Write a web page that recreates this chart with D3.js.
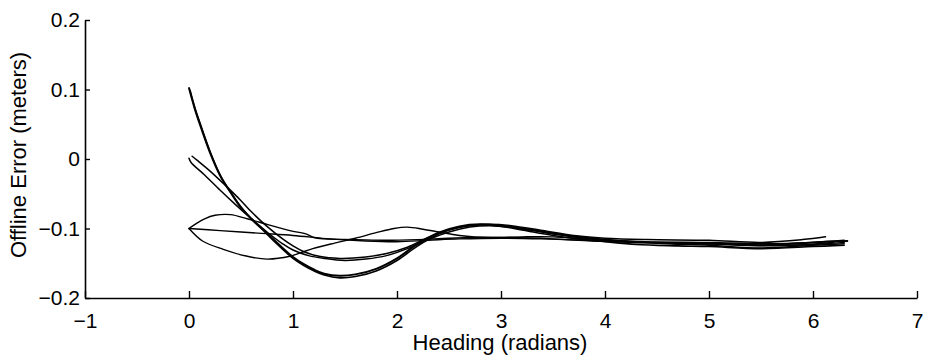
<!DOCTYPE html>
<html>
<head>
<meta charset="utf-8">
<script src="https://cdn.jsdelivr.net/npm/d3@7"></script>
<style>
  html, body { margin: 0; padding: 0; background: #fff; }
  svg { display: block; }
  text { font-family: "Liberation Sans", Arial, Helvetica, sans-serif; fill: #000; }
</style>
</head>
<body>
<svg id="chart" width="930" height="360"></svg>
<script>
// ---- data (heading in radians, offline error in meters) ----
const xTicks = [-1, 0, 1, 2, 3, 4, 5, 6, 7];
const yTicks = [-0.2, -0.1, 0, 0.1, 0.2];
const xLabel = "Heading (radians)";
const yLabel = "Offline Error (meters)";

const run1 = [[0,0.102],[0.05,0.075],[0.1,0.052],[0.2,0.01],[0.3,-0.024],[0.4,-0.048],[0.5,-0.07],[0.6,-0.086],[0.7,-0.1],[0.8,-0.114],[0.9,-0.128],[1.0,-0.141],[1.1,-0.151],[1.2,-0.159],[1.3,-0.165],[1.45,-0.168],[1.6,-0.166],[1.8,-0.158],[2.0,-0.143],[2.2,-0.122],[2.4,-0.106],[2.6,-0.097],[2.8,-0.094],[3.0,-0.096],[3.2,-0.1],[3.5,-0.107],[3.8,-0.113],[4.0,-0.116],[4.3,-0.12],[4.6,-0.12],[5.0,-0.121],[5.5,-0.124],[6.0,-0.12],[6.33,-0.118]];
const run2 = [[0.01,0.099],[0.06,0.072],[0.11,0.05],[0.21,0.008],[0.31,-0.026],[0.41,-0.05],[0.51,-0.071],[0.61,-0.088],[0.71,-0.102],[0.81,-0.117],[0.91,-0.131],[1.0,-0.143],[1.1,-0.153],[1.2,-0.161],[1.3,-0.167],[1.45,-0.171],[1.6,-0.169],[1.8,-0.161],[2.0,-0.146],[2.2,-0.125],[2.4,-0.108],[2.6,-0.098],[2.8,-0.095],[3.0,-0.097],[3.2,-0.102],[3.5,-0.11],[3.8,-0.116],[4.0,-0.119],[4.3,-0.123],[4.7,-0.125],[5.0,-0.126],[5.5,-0.129],[6.0,-0.126],[6.3,-0.124]];
const run3 = [[0.03,0.004],[0.08,-0.002],[0.2,-0.017],[0.35,-0.038],[0.5,-0.06],[0.6,-0.076],[0.75,-0.097],[0.9,-0.115],[1.0,-0.125],[1.1,-0.133],[1.25,-0.14],[1.45,-0.143],[1.7,-0.141],[1.9,-0.136],[2.1,-0.127],[2.3,-0.113],[2.5,-0.102],[2.7,-0.096],[2.9,-0.094],[3.1,-0.096],[3.4,-0.103],[3.7,-0.11],[4.0,-0.114],[4.4,-0.116],[5.0,-0.117],[5.5,-0.12],[5.9,-0.116],[6.12,-0.112]];
const run4 = [[0.0,0.001],[0.02,-0.005],[0.15,-0.023],[0.3,-0.045],[0.45,-0.066],[0.6,-0.086],[0.75,-0.105],[0.9,-0.122],[1.0,-0.131],[1.15,-0.139],[1.3,-0.143],[1.5,-0.146],[1.7,-0.144],[1.9,-0.139],[2.1,-0.129],[2.3,-0.116],[2.5,-0.105],[2.7,-0.098],[2.9,-0.096],[3.2,-0.1],[3.5,-0.108],[3.8,-0.114],[4.2,-0.118],[4.6,-0.122],[5.0,-0.124],[5.5,-0.128],[6.0,-0.124],[6.3,-0.122]];
const run5 = [[0,-0.1],[0.08,-0.092],[0.15,-0.086],[0.25,-0.081],[0.4,-0.08],[0.56,-0.086],[0.75,-0.094],[0.97,-0.103],[1.13,-0.108],[1.2,-0.113],[1.3,-0.115],[1.6,-0.116],[1.9,-0.117],[2.2,-0.116],[2.5,-0.114],[2.8,-0.113],[3.1,-0.113],[3.5,-0.115],[3.9,-0.118],[4.3,-0.12],[4.8,-0.122],[5.3,-0.123],[5.8,-0.124],[6.2,-0.12]];
const run6 = [[0,-0.1],[0.3,-0.103],[0.7,-0.107],[1.0,-0.11],[1.36,-0.115],[1.7,-0.118],[2.0,-0.119],[2.3,-0.117],[2.6,-0.115],[3.0,-0.114],[3.4,-0.115],[3.8,-0.117],[4.2,-0.119],[4.6,-0.121],[5.0,-0.122],[5.5,-0.125],[6.0,-0.123],[6.3,-0.12]];
const run7 = [[0,-0.1],[0.13,-0.118],[0.33,-0.13],[0.56,-0.14],[0.75,-0.144],[0.97,-0.14],[1.07,-0.135],[1.19,-0.129],[1.4,-0.121],[1.6,-0.114],[1.8,-0.106],[1.97,-0.1],[2.1,-0.098],[2.25,-0.101],[2.4,-0.105],[2.6,-0.11],[2.9,-0.113],[3.2,-0.112],[3.5,-0.112],[3.8,-0.115],[4.2,-0.118],[4.6,-0.12],[5.0,-0.12],[5.5,-0.122],[6.0,-0.12],[6.3,-0.117]];

const runs = [run1, run2, run3, run4, run5, run6, run7];
const runWidths = [2.0, 1.6, 1.5, 1.5, 1.4, 1.4, 1.4];

// ---- layout ----
const svg = d3.select("#chart");
const x = d3.scaleLinear().domain([-1, 7]).range([85, 917]);
const y = d3.scaleLinear().domain([-0.2, 0.2]).range([298, 20]);

const line = d3.line()
  .x(d => x(d[0]))
  .y(d => y(d[1]))
  .curve(d3.curveCatmullRom.alpha(0.5));

svg.append("g").selectAll("path")
  .data(runs)
  .join("path")
  .attr("d", d => line(d))
  .attr("fill", "none")
  .attr("stroke", "#000")
  .attr("stroke-width", (d, i) => runWidths[i])
  .attr("stroke-linejoin", "round")
  .attr("stroke-linecap", "round");

const fmtY = d => d === 0 ? "0" : d3.format(".1f")(d);

const gx = svg.append("g")
  .attr("transform", `translate(0,${y(-0.2)})`)
  .call(d3.axisBottom(x).tickValues(xTicks).tickFormat(d3.format("d"))
        .tickSizeInner(-7).tickSizeOuter(0).tickPadding(15));
const gy = svg.append("g")
  .attr("transform", `translate(${x(-1)},0)`)
  .call(d3.axisLeft(y).tickValues(yTicks).tickFormat(fmtY)
        .tickSizeInner(-5).tickSizeOuter(0).tickPadding(5));

[gx, gy].forEach(g => {
  g.select(".domain").attr("stroke", "#000").attr("stroke-width", 1.6);
  g.selectAll(".tick line").attr("stroke", "#000").attr("stroke-width", 1.4);
  g.selectAll(".tick text").attr("font-size", 21).attr("font-family", "Liberation Sans, Arial, sans-serif").attr("fill", "#000");
});

svg.append("text")
  .attr("x", 500).attr("y", 350)
  .attr("text-anchor", "middle")
  .attr("font-size", 22)
  .text(xLabel);

svg.append("text")
  .attr("transform", "translate(26,155) rotate(-90)")
  .attr("text-anchor", "middle")
  .attr("font-size", 22)
  .text(yLabel);
</script>
</body>
</html>
